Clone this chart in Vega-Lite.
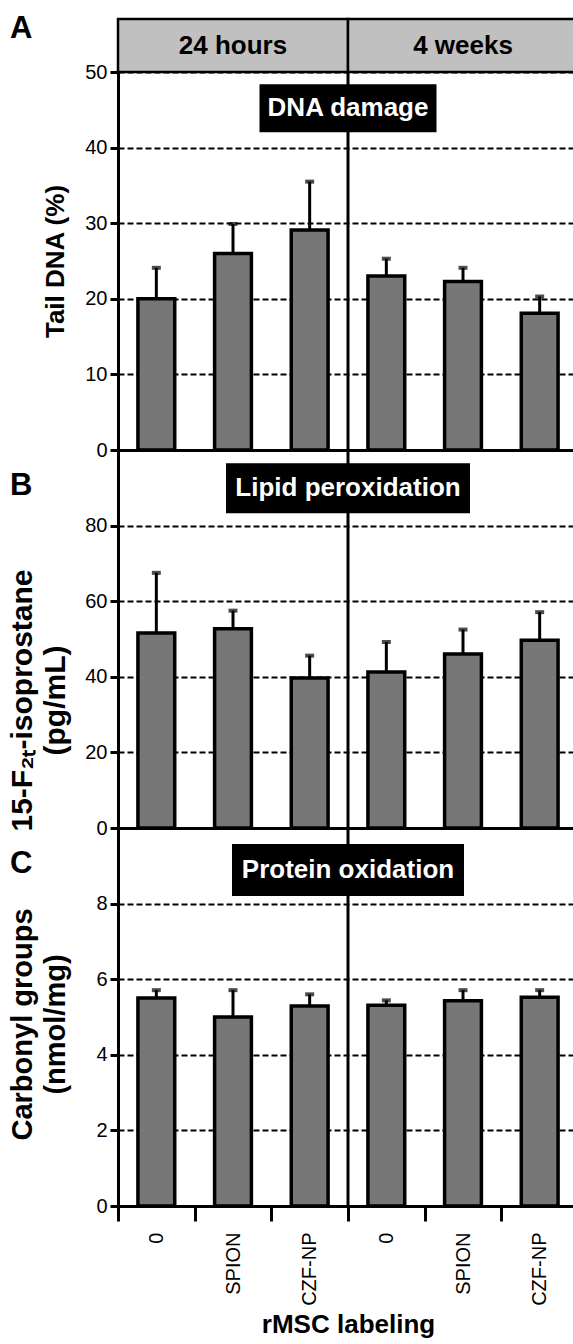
{
  "$schema": "https://vega.github.io/schema/vega-lite/v6.json",
  "padding": {"left": 7, "top": 12, "right": -6, "bottom": 0},
  "spacing": 0,
  "bounds": "flush",
  "config": {
    "font": "Liberation Sans",
    "view": {"stroke": null},
    "axis": {
      "domainColor": "black", "domainWidth": 3, "tickColor": "black", "tickWidth": 3,
      "labelColor": "black", "titleColor": "black", "labelFont": "Liberation Sans", "titleFont": "Liberation Sans"
    },
    "axisY": {
      "labelFontSize": 20, "tickSize": 8, "labelPadding": 3,
      "gridColor": "black", "gridWidth": 2, "gridDash": [6, 3], "gridOpacity": 1,
      "titleFontSize": 26, "titleFontWeight": "bold", "titleLineHeight": 33,
      "titleBaseline": "bottom"
    },
    "title": {"anchor": "start", "frame": "group", "fontSize": 31, "fontWeight": "bold", "color": "black", "font": "Liberation Sans", "dx": -108, "baseline": "top", "offset": 0}
  },
  "datasets": {
    "periods": [{"period": "24 hours"}, {"period": "4 weeks"}],
    "divider": [{"key": "4 weeks|0"}],
    "dna": [
      {"key": "24 hours|0", "time": "24 hours", "label": "0", "mean": 20.0, "upper": 24.1},
      {"key": "24 hours|SPION", "time": "24 hours", "label": "SPION", "mean": 26.0, "upper": 29.9},
      {"key": "24 hours|CZF-NP", "time": "24 hours", "label": "CZF-NP", "mean": 29.1, "upper": 35.5},
      {"key": "4 weeks|0", "time": "4 weeks", "label": "0", "mean": 23.0, "upper": 25.3},
      {"key": "4 weeks|SPION", "time": "4 weeks", "label": "SPION", "mean": 22.3, "upper": 24.1},
      {"key": "4 weeks|CZF-NP", "time": "4 weeks", "label": "CZF-NP", "mean": 18.1, "upper": 20.3}
    ],
    "lipid": [
      {"key": "24 hours|0", "time": "24 hours", "label": "0", "mean": 51.6, "upper": 67.5},
      {"key": "24 hours|SPION", "time": "24 hours", "label": "SPION", "mean": 52.7, "upper": 57.5},
      {"key": "24 hours|CZF-NP", "time": "24 hours", "label": "CZF-NP", "mean": 39.7, "upper": 45.6},
      {"key": "4 weeks|0", "time": "4 weeks", "label": "0", "mean": 41.3, "upper": 49.2},
      {"key": "4 weeks|SPION", "time": "4 weeks", "label": "SPION", "mean": 46.0, "upper": 52.5},
      {"key": "4 weeks|CZF-NP", "time": "4 weeks", "label": "CZF-NP", "mean": 49.7, "upper": 57.1}
    ],
    "protein": [
      {"key": "24 hours|0", "time": "24 hours", "label": "0", "mean": 5.50, "upper": 5.71},
      {"key": "24 hours|SPION", "time": "24 hours", "label": "SPION", "mean": 5.00, "upper": 5.71},
      {"key": "24 hours|CZF-NP", "time": "24 hours", "label": "CZF-NP", "mean": 5.29, "upper": 5.60},
      {"key": "4 weeks|0", "time": "4 weeks", "label": "0", "mean": 5.31, "upper": 5.44},
      {"key": "4 weeks|SPION", "time": "4 weeks", "label": "SPION", "mean": 5.43, "upper": 5.71},
      {"key": "4 weeks|CZF-NP", "time": "4 weeks", "label": "CZF-NP", "mean": 5.52, "upper": 5.71}
    ],
    "boxes": [
      {"panel": "A", "key": "4 weeks|0", "y": 45.2, "text": "DNA damage"},
      {"panel": "B", "key": "4 weeks|0", "y": 89.9, "text": "Lipid peroxidation"},
      {"panel": "C", "key": "4 weeks|0", "y": 8.89, "text": "Protein oxidation"}
    ]
  },
  "vconcat": [
    {
      "width": 460, "height": 53,
      "title": {"text": "A", "dy": 31},
      "data": {"name": "periods"},
      "encoding": {"x": {"field": "period", "type": "nominal", "axis": null, "scale": {"paddingInner": 0, "paddingOuter": 0}}},
      "layer": [
        {"mark": {"type": "rect", "fill": "#c0c0c0", "stroke": "black", "strokeWidth": 2.5}},
        {"mark": {"type": "text", "fontSize": 26, "fontWeight": "bold", "fill": "black"}, "encoding": {"text": {"field": "period"}}}
      ]
    },
    {
      "width": 460, "height": 378,
      "layer": [
        {"data": {"name": "dna"}, "mark": {"type": "bar", "fill": "#777777", "stroke": "black", "strokeWidth": 3.5, "width": {"band": 0.48}},
          "encoding": {
            "x": {"field": "key", "type": "nominal", "scale": {"domain": ["24 hours|0", "24 hours|SPION", "24 hours|CZF-NP", "4 weeks|0", "4 weeks|SPION", "4 weeks|CZF-NP"], "paddingInner": 0, "paddingOuter": 0}, "axis": {"title": null, "labels": false, "ticks": false, "domain": true, "grid": false}},
            "y": {"field": "mean", "type": "quantitative", "scale": {"domain": [0, 50]}, "axis": {"title": "Tail DNA (%)", "values": [0, 10, 20, 30, 40, 50], "grid": true, "titleX": -50}}
          }},
        {"data": {"name": "dna"}, "mark": {"type": "rule", "strokeWidth": 3, "color": "black"},
          "encoding": {
            "x": {"field": "key", "type": "nominal", "scale": {"domain": ["24 hours|0", "24 hours|SPION", "24 hours|CZF-NP", "4 weeks|0", "4 weeks|SPION", "4 weeks|CZF-NP"], "paddingInner": 0, "paddingOuter": 0}, "axis": {"title": null, "labels": false, "ticks": false, "domain": true, "grid": false}},
            "y": {"field": "mean", "type": "quantitative", "scale": {"domain": [0, 50]}, "axis": {"title": "Tail DNA (%)", "values": [0, 10, 20, 30, 40, 50], "grid": true, "titleX": -50}},
            "y2": {"field": "upper"}
          }},
        {"data": {"name": "dna"}, "mark": {"type": "tick", "color": "black", "size": 9, "thickness": 4},
          "encoding": {
            "x": {"field": "key", "type": "nominal", "scale": {"domain": ["24 hours|0", "24 hours|SPION", "24 hours|CZF-NP", "4 weeks|0", "4 weeks|SPION", "4 weeks|CZF-NP"], "paddingInner": 0, "paddingOuter": 0}, "axis": {"title": null, "labels": false, "ticks": false, "domain": true, "grid": false}},
            "y": {"field": "upper", "type": "quantitative", "scale": {"domain": [0, 50]}, "axis": {"title": "Tail DNA (%)", "values": [0, 10, 20, 30, 40, 50], "grid": true, "titleX": -50}}
          }},
        {"data": {"name": "divider"}, "mark": {"type": "rule", "strokeWidth": 3, "color": "black"},
          "encoding": {
            "x": {"field": "key", "type": "nominal", "bandPosition": 0, "scale": {"domain": ["24 hours|0", "24 hours|SPION", "24 hours|CZF-NP", "4 weeks|0", "4 weeks|SPION", "4 weeks|CZF-NP"], "paddingInner": 0, "paddingOuter": 0}, "axis": {"title": null, "labels": false, "ticks": false, "domain": true, "grid": false}}
          }},
        {"data": {"name": "boxes"}, "transform": [{"filter": "datum.panel === 'A'"}],
          "mark": {"type": "point", "shape": "M-1,-0.271L1,-0.271L1,0.271L-1,0.271Z", "size": 31329, "filled": true, "fill": "black", "opacity": 1, "strokeWidth": 0},
          "encoding": {
            "x": {"field": "key", "type": "nominal", "bandPosition": 0, "scale": {"domain": ["24 hours|0", "24 hours|SPION", "24 hours|CZF-NP", "4 weeks|0", "4 weeks|SPION", "4 weeks|CZF-NP"], "paddingInner": 0, "paddingOuter": 0}, "axis": {"title": null, "labels": false, "ticks": false, "domain": true, "grid": false}},
            "y": {"field": "y", "type": "quantitative", "scale": {"domain": [0, 50]}, "axis": {"title": "Tail DNA (%)", "values": [0, 10, 20, 30, 40, 50], "grid": true, "titleX": -50}}
          }},
        {"data": {"name": "boxes"}, "transform": [{"filter": "datum.panel === 'A'"}],
          "mark": {"type": "text", "fontSize": 26, "fontWeight": "bold", "fill": "white"},
          "encoding": {
            "x": {"field": "key", "type": "nominal", "bandPosition": 0, "scale": {"domain": ["24 hours|0", "24 hours|SPION", "24 hours|CZF-NP", "4 weeks|0", "4 weeks|SPION", "4 weeks|CZF-NP"], "paddingInner": 0, "paddingOuter": 0}, "axis": {"title": null, "labels": false, "ticks": false, "domain": true, "grid": false}},
            "y": {"field": "y", "type": "quantitative", "scale": {"domain": [0, 50]}, "axis": {"title": "Tail DNA (%)", "values": [0, 10, 20, 30, 40, 50], "grid": true, "titleX": -50}},
            "text": {"field": "text"}
          }}
      ]
    },
    {
      "width": 460, "height": 378,
      "title": {"text": "B", "dy": 57},
      "layer": [
        {"data": {"name": "lipid"}, "mark": {"type": "bar", "fill": "#777777", "stroke": "black", "strokeWidth": 3.5, "width": {"band": 0.48}},
          "encoding": {
            "x": {"field": "key", "type": "nominal", "scale": {"domain": ["24 hours|0", "24 hours|SPION", "24 hours|CZF-NP", "4 weeks|0", "4 weeks|SPION", "4 weeks|CZF-NP"], "paddingInner": 0, "paddingOuter": 0}, "axis": {"title": null, "labels": false, "ticks": false, "domain": true, "grid": false}},
            "y": {"field": "mean", "type": "quantitative", "scale": {"domain": [0, 100]}, "axis": {"title": ["15-F₂ₜ-isoprostane", "(pg/mL)"], "values": [0, 20, 40, 60, 80], "grid": true, "titleY": 250, "titleX": -81, "titleFontSize": 30}}
          }},
        {"data": {"name": "lipid"}, "mark": {"type": "rule", "strokeWidth": 3, "color": "black"},
          "encoding": {
            "x": {"field": "key", "type": "nominal", "scale": {"domain": ["24 hours|0", "24 hours|SPION", "24 hours|CZF-NP", "4 weeks|0", "4 weeks|SPION", "4 weeks|CZF-NP"], "paddingInner": 0, "paddingOuter": 0}, "axis": {"title": null, "labels": false, "ticks": false, "domain": true, "grid": false}},
            "y": {"field": "mean", "type": "quantitative", "scale": {"domain": [0, 100]}, "axis": {"title": ["15-F₂ₜ-isoprostane", "(pg/mL)"], "values": [0, 20, 40, 60, 80], "grid": true, "titleY": 250, "titleX": -81, "titleFontSize": 30}},
            "y2": {"field": "upper"}
          }},
        {"data": {"name": "lipid"}, "mark": {"type": "tick", "color": "black", "size": 9, "thickness": 4},
          "encoding": {
            "x": {"field": "key", "type": "nominal", "scale": {"domain": ["24 hours|0", "24 hours|SPION", "24 hours|CZF-NP", "4 weeks|0", "4 weeks|SPION", "4 weeks|CZF-NP"], "paddingInner": 0, "paddingOuter": 0}, "axis": {"title": null, "labels": false, "ticks": false, "domain": true, "grid": false}},
            "y": {"field": "upper", "type": "quantitative", "scale": {"domain": [0, 100]}, "axis": {"title": ["15-F₂ₜ-isoprostane", "(pg/mL)"], "values": [0, 20, 40, 60, 80], "grid": true, "titleY": 250, "titleX": -81, "titleFontSize": 30}}
          }},
        {"data": {"name": "divider"}, "mark": {"type": "rule", "strokeWidth": 3, "color": "black"},
          "encoding": {
            "x": {"field": "key", "type": "nominal", "bandPosition": 0, "scale": {"domain": ["24 hours|0", "24 hours|SPION", "24 hours|CZF-NP", "4 weeks|0", "4 weeks|SPION", "4 weeks|CZF-NP"], "paddingInner": 0, "paddingOuter": 0}, "axis": {"title": null, "labels": false, "ticks": false, "domain": true, "grid": false}}
          }},
        {"data": {"name": "boxes"}, "transform": [{"filter": "datum.panel === 'B'"}],
          "mark": {"type": "point", "shape": "M-1,-0.205L1,-0.205L1,0.205L-1,0.205Z", "size": 59536, "filled": true, "fill": "black", "opacity": 1, "strokeWidth": 0},
          "encoding": {
            "x": {"field": "key", "type": "nominal", "bandPosition": 0, "scale": {"domain": ["24 hours|0", "24 hours|SPION", "24 hours|CZF-NP", "4 weeks|0", "4 weeks|SPION", "4 weeks|CZF-NP"], "paddingInner": 0, "paddingOuter": 0}, "axis": {"title": null, "labels": false, "ticks": false, "domain": true, "grid": false}},
            "y": {"field": "y", "type": "quantitative", "scale": {"domain": [0, 100]}, "axis": {"title": ["15-F₂ₜ-isoprostane", "(pg/mL)"], "values": [0, 20, 40, 60, 80], "grid": true, "titleY": 250, "titleX": -81, "titleFontSize": 30}}
          }},
        {"data": {"name": "boxes"}, "transform": [{"filter": "datum.panel === 'B'"}],
          "mark": {"type": "text", "fontSize": 26, "fontWeight": "bold", "fill": "white"},
          "encoding": {
            "x": {"field": "key", "type": "nominal", "bandPosition": 0, "scale": {"domain": ["24 hours|0", "24 hours|SPION", "24 hours|CZF-NP", "4 weeks|0", "4 weeks|SPION", "4 weeks|CZF-NP"], "paddingInner": 0, "paddingOuter": 0}, "axis": {"title": null, "labels": false, "ticks": false, "domain": true, "grid": false}},
            "y": {"field": "y", "type": "quantitative", "scale": {"domain": [0, 100]}, "axis": {"title": ["15-F₂ₜ-isoprostane", "(pg/mL)"], "values": [0, 20, 40, 60, 80], "grid": true, "titleY": 250, "titleX": -81, "titleFontSize": 30}},
            "text": {"field": "text"}
          }}
      ]
    },
    {
      "width": 460, "height": 378,
      "title": {"text": "C", "dy": 57},
      "layer": [
        {"data": {"name": "protein"}, "mark": {"type": "bar", "fill": "#777777", "stroke": "black", "strokeWidth": 3.5, "width": {"band": 0.48}},
          "encoding": {
            "x": {"field": "key", "type": "nominal", "scale": {"domain": ["24 hours|0", "24 hours|SPION", "24 hours|CZF-NP", "4 weeks|0", "4 weeks|SPION", "4 weeks|CZF-NP"], "paddingInner": 0, "paddingOuter": 0}, "axis": {"title": "rMSC labeling", "labels": true, "ticks": true, "tickBand": "extent", "tickSize": 15, "labelAngle": 270, "labelAlign": "right", "labelBaseline": "middle", "labelPadding": 11, "labelFontSize": 20, "labelExpr": "split(datum.label, '|')[1]", "titleFontSize": 26, "titleFontWeight": "bold", "titlePadding": 6, "grid": false}},
            "y": {"field": "mean", "type": "quantitative", "scale": {"domain": [0, 10]}, "axis": {"title": ["Carbonyl groups", "(nmol/mg)"], "values": [0, 2, 4, 6, 8], "grid": true, "titleY": 196, "titleX": -81, "titleFontSize": 29}}
          }},
        {"data": {"name": "protein"}, "mark": {"type": "rule", "strokeWidth": 3, "color": "black"},
          "encoding": {
            "x": {"field": "key", "type": "nominal", "scale": {"domain": ["24 hours|0", "24 hours|SPION", "24 hours|CZF-NP", "4 weeks|0", "4 weeks|SPION", "4 weeks|CZF-NP"], "paddingInner": 0, "paddingOuter": 0}, "axis": {"title": "rMSC labeling", "labels": true, "ticks": true, "tickBand": "extent", "tickSize": 15, "labelAngle": 270, "labelAlign": "right", "labelBaseline": "middle", "labelPadding": 11, "labelFontSize": 20, "labelExpr": "split(datum.label, '|')[1]", "titleFontSize": 26, "titleFontWeight": "bold", "titlePadding": 6, "grid": false}},
            "y": {"field": "mean", "type": "quantitative", "scale": {"domain": [0, 10]}, "axis": {"title": ["Carbonyl groups", "(nmol/mg)"], "values": [0, 2, 4, 6, 8], "grid": true, "titleY": 196, "titleX": -81, "titleFontSize": 29}},
            "y2": {"field": "upper"}
          }},
        {"data": {"name": "protein"}, "mark": {"type": "tick", "color": "black", "size": 9, "thickness": 4},
          "encoding": {
            "x": {"field": "key", "type": "nominal", "scale": {"domain": ["24 hours|0", "24 hours|SPION", "24 hours|CZF-NP", "4 weeks|0", "4 weeks|SPION", "4 weeks|CZF-NP"], "paddingInner": 0, "paddingOuter": 0}, "axis": {"title": "rMSC labeling", "labels": true, "ticks": true, "tickBand": "extent", "tickSize": 15, "labelAngle": 270, "labelAlign": "right", "labelBaseline": "middle", "labelPadding": 11, "labelFontSize": 20, "labelExpr": "split(datum.label, '|')[1]", "titleFontSize": 26, "titleFontWeight": "bold", "titlePadding": 6, "grid": false}},
            "y": {"field": "upper", "type": "quantitative", "scale": {"domain": [0, 10]}, "axis": {"title": ["Carbonyl groups", "(nmol/mg)"], "values": [0, 2, 4, 6, 8], "grid": true, "titleY": 196, "titleX": -81, "titleFontSize": 29}}
          }},
        {"data": {"name": "divider"}, "mark": {"type": "rule", "strokeWidth": 3, "color": "black"},
          "encoding": {
            "x": {"field": "key", "type": "nominal", "bandPosition": 0, "scale": {"domain": ["24 hours|0", "24 hours|SPION", "24 hours|CZF-NP", "4 weeks|0", "4 weeks|SPION", "4 weeks|CZF-NP"], "paddingInner": 0, "paddingOuter": 0}, "axis": {"title": "rMSC labeling", "labels": true, "ticks": true, "tickBand": "extent", "tickSize": 15, "labelAngle": 270, "labelAlign": "right", "labelBaseline": "middle", "labelPadding": 11, "labelFontSize": 20, "labelExpr": "split(datum.label, '|')[1]", "titleFontSize": 26, "titleFontWeight": "bold", "titlePadding": 6, "grid": false}}
          }},
        {"data": {"name": "boxes"}, "transform": [{"filter": "datum.panel === 'C'"}],
          "mark": {"type": "point", "shape": "M-1,-0.224L1,-0.224L1,0.224L-1,0.224Z", "size": 53824, "filled": true, "fill": "black", "opacity": 1, "strokeWidth": 0},
          "encoding": {
            "x": {"field": "key", "type": "nominal", "bandPosition": 0, "scale": {"domain": ["24 hours|0", "24 hours|SPION", "24 hours|CZF-NP", "4 weeks|0", "4 weeks|SPION", "4 weeks|CZF-NP"], "paddingInner": 0, "paddingOuter": 0}, "axis": {"title": "rMSC labeling", "labels": true, "ticks": true, "tickBand": "extent", "tickSize": 15, "labelAngle": 270, "labelAlign": "right", "labelBaseline": "middle", "labelPadding": 11, "labelFontSize": 20, "labelExpr": "split(datum.label, '|')[1]", "titleFontSize": 26, "titleFontWeight": "bold", "titlePadding": 6, "grid": false}},
            "y": {"field": "y", "type": "quantitative", "scale": {"domain": [0, 10]}, "axis": {"title": ["Carbonyl groups", "(nmol/mg)"], "values": [0, 2, 4, 6, 8], "grid": true, "titleY": 196, "titleX": -81, "titleFontSize": 29}}
          }},
        {"data": {"name": "boxes"}, "transform": [{"filter": "datum.panel === 'C'"}],
          "mark": {"type": "text", "fontSize": 26, "fontWeight": "bold", "fill": "white"},
          "encoding": {
            "x": {"field": "key", "type": "nominal", "bandPosition": 0, "scale": {"domain": ["24 hours|0", "24 hours|SPION", "24 hours|CZF-NP", "4 weeks|0", "4 weeks|SPION", "4 weeks|CZF-NP"], "paddingInner": 0, "paddingOuter": 0}, "axis": {"title": "rMSC labeling", "labels": true, "ticks": true, "tickBand": "extent", "tickSize": 15, "labelAngle": 270, "labelAlign": "right", "labelBaseline": "middle", "labelPadding": 11, "labelFontSize": 20, "labelExpr": "split(datum.label, '|')[1]", "titleFontSize": 26, "titleFontWeight": "bold", "titlePadding": 6, "grid": false}},
            "y": {"field": "y", "type": "quantitative", "scale": {"domain": [0, 10]}, "axis": {"title": ["Carbonyl groups", "(nmol/mg)"], "values": [0, 2, 4, 6, 8], "grid": true, "titleY": 196, "titleX": -81, "titleFontSize": 29}},
            "text": {"field": "text"}
          }}
      ]
    }
  ]
}
